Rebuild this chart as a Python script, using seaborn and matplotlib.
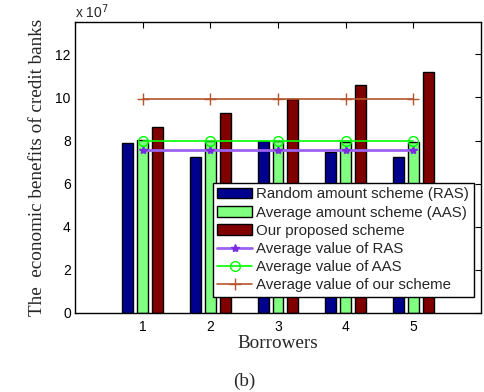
import matplotlib
matplotlib.use("Agg")
import matplotlib.pyplot as plt
import seaborn as sns
import pandas as pd
import numpy as np

borrowers = ["1", "2", "3", "4", "5"]
ras = [7.88, 7.23, 8.00, 7.46, 7.26]
aas = [8.02, 8.00, 8.00, 7.95, 7.95]
ours = [8.65, 9.30, 9.94, 10.56, 11.18]
avg_ras = 7.55
avg_aas = 7.98
avg_ours = 9.91

schemes = ["Random amount scheme (RAS)", "Average amount scheme (AAS)", "Our proposed scheme"]
colors = ["#00008F", "#80FF80", "#800000"]

sns.set_theme(style="white")
plt.rcParams["font.family"] = ["Liberation Sans", "DejaVu Sans"]

df = pd.DataFrame({
    "Borrower": borrowers * 3,
    "Value": ras + aas + ours,
    "Scheme": [schemes[0]] * 5 + [schemes[1]] * 5 + [schemes[2]] * 5,
})

fig = plt.figure(figsize=(4.84, 3.92), dpi=100)
ax = fig.add_axes([75 / 484, 1 - 313 / 392, 406 / 484, 291 / 392])

sns.barplot(data=df, x="Borrower", y="Value", hue="Scheme", palette=colors,
            width=0.66, gap=0.27, edgecolor="black", linewidth=1.0,
            saturation=1, ax=ax, legend=True)

xpos = np.arange(len(borrowers))
ax.plot(xpos, [avg_ras] * 5, color="#9C62F0", lw=2.0, marker="*", ms=6,
        mfc="#7A2BE2", mec="#7A2BE2", label="Average value of RAS")
ax.plot(xpos, [avg_aas] * 5, color="#00FF00", lw=1.2, marker="o", ms=7,
        mfc="none", mew=1.0, label="Average value of AAS")
ax.plot(xpos, [avg_ours] * 5, color="#B5552E", lw=1.2, marker="+", ms=8,
        mew=1.0, label="Average value of our scheme")

ax.set_xlim(-1, 5)
ax.set_ylim(0, 13.5)
ax.set_yticks([0, 2, 4, 6, 8, 10, 12])
ax.set_yticklabels(["0", "2", "4", "6", "8", "10", "12"])
ax.tick_params(direction="in", length=4, width=0.8, top=True, right=True,
               labelsize=10, colors="black", pad=3)
ax.tick_params(axis="x", pad=5)
for s in ax.spines.values():
    s.set_visible(True)
    s.set_color("black")
    s.set_linewidth(1.0)

ax.set_xlabel("Borrowers", family=["Liberation Serif"], fontsize=13.8, labelpad=1)
ax.set_ylabel("The  economic benefits of credit banks", family=["Liberation Serif"],
              fontsize=13.8, labelpad=7)

fig.text(75 / 484, 1 - 12 / 392, r"x 10$^{7}$", fontsize=10, ha="left", va="center")
fig.text(244 / 484, 1 - 381 / 392, "(b)", family=["Liberation Serif"], fontsize=13.8,
         ha="center", va="center")

handles, labels = ax.get_legend_handles_labels()
leg = ax.legend(handles, labels, loc="lower right", bbox_to_anchor=(0.982, 0.055),
                fontsize=10.8, frameon=True, fancybox=False, edgecolor="black",
                framealpha=1, borderpad=0.3, labelspacing=0.28, handlelength=2.3,
                handletextpad=0.3, borderaxespad=0)
leg.get_frame().set_linewidth(1.0)

fig.savefig("out.png", dpi=100)
